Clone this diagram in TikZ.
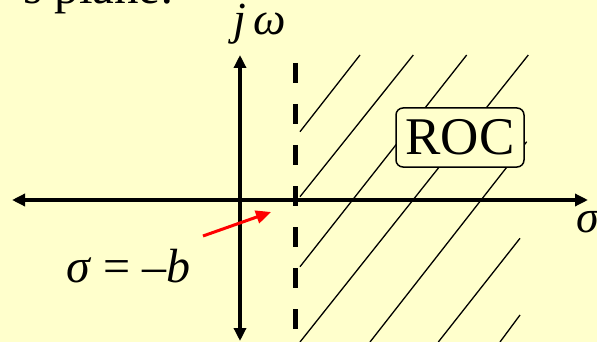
\documentclass[tikz,border=0pt]{standalone}
\usepackage{fontspec}
\setmainfont{Liberation Serif}
\usetikzlibrary{arrows.meta}
\definecolor{bgyellow}{RGB}{255,255,204}
\definecolor{arrowred}{RGB}{255,0,0}
\tikzset{
  axis/.style={line width=3.5pt, {Triangle[length=13pt,width=12pt]}-{Triangle[length=13pt,width=12pt]}},
  hatch/.style={line width=1.3pt},
  boundary/.style={line width=5pt, dash pattern=on 20pt off 21pt},
  roc/.style={draw, line width=1.5pt, rounded corners=7pt, fill=bgyellow, minimum width=128pt, minimum height=59pt, inner sep=0pt, font=\fontsize{53}{62}\selectfont},
  lbl/.style={inner sep=0pt, font=\fontsize{46}{55}\selectfont},
  pointer/.style={draw=arrowred, line width=3pt, -{Triangle[length=15pt,width=13pt]}}
}
\begin{document}
\begin{tikzpicture}[x=1pt,y=-1pt]
\fill[bgyellow] (0,0) rectangle (597,342);
\useasboundingbox (0,0) rectangle (597,342);
\begin{scope}
\clip (0,0) rectangle (597,342);
% title (cut off at top)
\node[lbl, anchor=base west, font=\fontsize{49}{58}\selectfont] (title) at (23,3.5) {s plane:};
% hatch lines
\draw[hatch] (300,131.7) -- (360,55);
\draw[hatch] (300,196.7) -- (413.3,55);
\draw[hatch] (300,266.7) -- (466.7,55);
\draw[hatch] (300,342) -- (528.3,55);
\draw[hatch] (370,342) -- (526.7,141.7);
\draw[hatch] (438.3,342) -- (520,238.3);
\draw[hatch] (500,342) -- (520,315);
% axes
\coordinate (xl) at (12,200);
\coordinate (xr) at (588,200);
\coordinate (yt) at (240,55);
\coordinate (yb) at (240,341);
\draw[axis] (xl) -- (xr);
\draw[axis] (yb) -- (yt);
% boundary sigma = -b
\coordinate (bt) at (295,63);
\coordinate (bb) at (295,345);
\draw[boundary] (bt) -- (bb);
% ROC label
\node[roc] (roc) at (460,137.5) {ROC};
% axis labels
\node[lbl, anchor=base] (jw) at (260,35) {\textit{j\,ω}};
\node[lbl, anchor=base west] (sig) at (576,232) {\textit{σ}};
\node[lbl, anchor=base west, font=\fontsize{48}{58}\selectfont] (sigb) at (66,282) {\textit{σ} = –\textit{b}};
% red pointer
\coordinate (ptip) at (271,212);
\draw[pointer] (203,236) -- (ptip);
\end{scope}
\end{tikzpicture}
\end{document}
